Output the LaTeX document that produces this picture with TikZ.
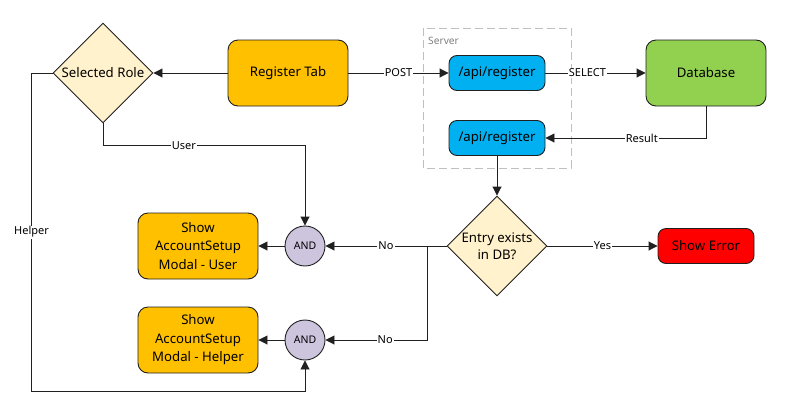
\documentclass[tikz,border=0pt]{standalone}
\usepackage{fontspec}
\setmainfont{Noto Sans}
\usetikzlibrary{shapes.geometric,arrows.meta}
\definecolor{regc}{HTML}{FFC000}
\definecolor{diac}{HTML}{FFF2CC}
\definecolor{apic}{HTML}{00B0F0}
\definecolor{dbc}{HTML}{92D050}
\definecolor{andc}{HTML}{CDC4DD}
\definecolor{errc}{HTML}{FF0000}
\definecolor{linec}{HTML}{202020}
\begin{document}
\begin{tikzpicture}[x=1pt,y=-1pt,
  box/.style={draw=linec,line width=0.9pt,rounded corners=10pt,minimum width=120pt,minimum height=66pt,inner sep=0pt,align=center,font=\fontsize{13.2}{18.5}\selectfont},
  smallbox/.style={draw=linec,line width=0.9pt,rounded corners=8pt,minimum width=96pt,minimum height=35pt,inner sep=0pt,align=center,font=\fontsize{13.2}{18}\selectfont},
  dia/.style={draw=linec,line width=0.9pt,diamond,fill=diac,minimum width=100pt,minimum height=100pt,inner sep=0pt},
  dtext/.style={align=center,font=\fontsize{13.2}{17.5}\selectfont},
  gate/.style={draw=linec,line width=0.9pt,circle,fill=andc,minimum size=40pt,inner sep=0pt,font=\fontsize{10.5}{12}\selectfont},
  arr/.style={draw=linec,line width=0.9pt,-{Triangle[length=9pt,width=9pt]}},
  lab/.style={fill=white,inner sep=1pt,font=\fontsize{11}{12}\selectfont},
]
\useasboundingbox (0,0) rectangle (786,418);
% server group
\draw[gray!50,line width=1pt,dash pattern=on 8pt off 4pt] (423,28) rectangle (571,168);
\node[anchor=west,text=gray,font=\fontsize{10.2}{11}\selectfont,inner sep=0pt] (srv) at (428,41) {Server};
% nodes
\node[dia] (role) at (103,73) {};
\node[dtext] (roletxt) at (103,73) {Selected Role};
\node[box,fill=regc] (reg) at (288,73) {Register Tab};
\node[smallbox,fill=apic] (api1) at (497,73) {/api/register};
\node[smallbox,fill=apic] (api2) at (497,138) {/api/register};
\node[box,fill=dbc] (db) at (706,73) {Database};
\node[dia] (entry) at (497,246) {};
\node[dtext] (entrytxt) at (497,246) {Entry exists\\in DB?};
\node[smallbox,fill=errc] (err) at (706,246) {Show Error};
\node[gate] (and1) at (305,246) {AND};
\node[gate] (and2) at (305,340) {AND};
\node[box,fill=regc] (user) at (198,246) {Show\\AccountSetup\\Modal - User};
\node[box,fill=regc] (helper) at (198,340) {Show\\AccountSetup\\Modal - Helper};
\coordinate (split) at (427,246);
% connectors
\draw[arr] (reg.west) -- (role.east);
\draw[arr] (reg.east) -- node[lab]{POST} (api1.west);
\draw[arr] (api1.east) -- node[lab,pos=0.42]{SELECT} (db.west);
\draw[arr] (db.south) |- node[lab,pos=0.7]{Result} (api2.east);
\draw[arr] (api2.south) -- (entry.north);
\draw[arr] (entry.east) -- node[lab]{Yes} (err.west);
\draw[arr] (entry.west) -- node[lab]{No} (and1.east);
\draw[arr] (split) |- node[lab,pos=0.706]{No} (and2.east);
\draw[arr] (and1.west) -- (user.east);
\draw[arr] (and2.west) -- (helper.east);
\draw[arr] (role.south) -- ++(0,22) -| node[lab,pos=0.2]{User} (and1.north);
\draw[arr] (role.west) -- ++(-21,0) -- node[lab]{Helper} ++(0,318) -| (and2.south);
\end{tikzpicture}
\end{document}
